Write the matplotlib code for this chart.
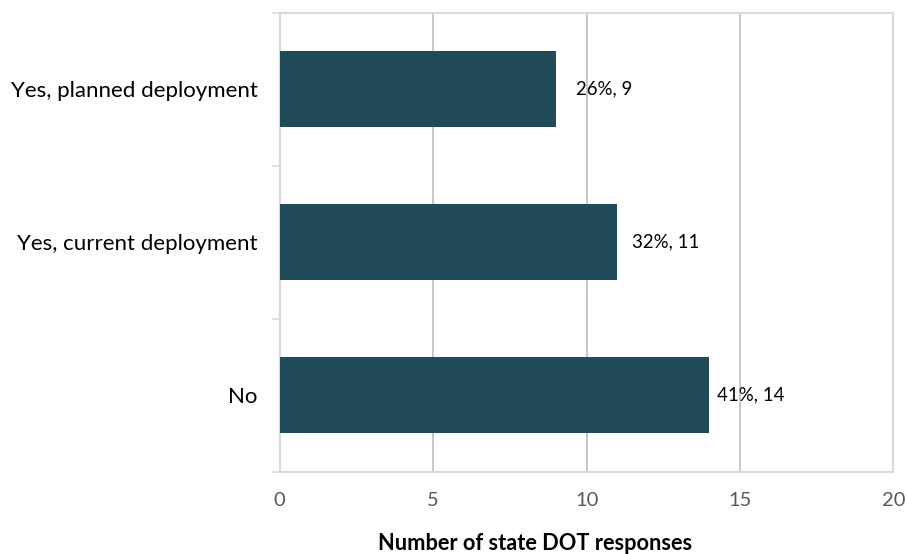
import matplotlib
matplotlib.use("Agg")
import matplotlib.pyplot as plt
from matplotlib.ticker import FixedLocator

plt.rcParams['font.family'] = ['Lato', 'DejaVu Sans']

categories = ["No", "Yes, current deployment", "Yes, planned deployment"]
counts = [14, 11, 9]
percents = [41, 32, 26]
x_ticks = [0, 5, 10, 15, 20]

bar_color = "#224B59"
frame_color = "#D9D9D9"
grid_color = "#BFBFBF"
# horizontal gap (points) between each bar end and its value label
label_gaps = [5.8, 10.8, 14.4]

fig = plt.figure(figsize=(9.06, 5.54), dpi=100)
ax = fig.add_axes([0.3087, 0.1489, 0.6775, 0.8282])

ypos = list(range(len(categories)))
bars = ax.barh(ypos, counts, height=0.5, color=bar_color, zorder=3)

for y, c, p, gap in zip(ypos, counts, percents, label_gaps):
    ax.annotate(f"{p}%, {c}", xy=(c, y), xytext=(gap, 0), textcoords="offset points",
                va="center", ha="left", fontsize=13.4, color="black", zorder=4)

ax.set_xlim(0, 20)
ax.set_ylim(-0.5, len(categories) - 0.5)

ax.set_xticks(x_ticks)
ax.set_xticklabels([str(t) for t in x_ticks], fontsize=14.5, color="#595959")
ax.tick_params(axis="x", length=0, pad=15)

ax.set_yticks(ypos)
ax.set_yticklabels(categories, fontsize=16, color="black")
ax.tick_params(axis="y", which="major", length=0, pad=16)
ax.yaxis.set_minor_locator(FixedLocator([-0.5, 0.5, 1.5, 2.5]))
ax.tick_params(axis="y", which="minor", length=6, width=1.2, color=frame_color)

ax.grid(axis="x", color=grid_color, linewidth=1.2, zorder=0)
for s in ax.spines.values():
    s.set_color(frame_color)
    s.set_linewidth(1.5)

ax.set_xlabel("Number of state DOT responses", fontsize=15.7, fontweight="bold", labelpad=19)
ax.xaxis.set_label_coords(0.416, -0.135)

fig.savefig("out.png", dpi=100)
